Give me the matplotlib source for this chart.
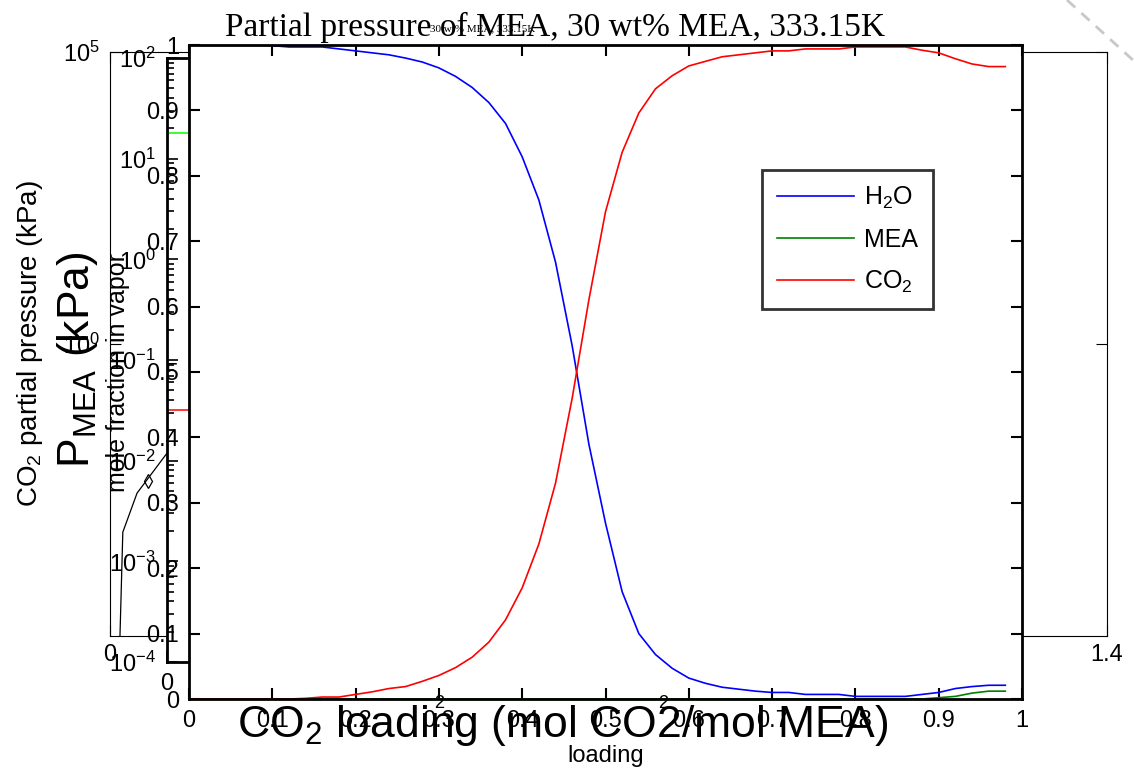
import matplotlib
matplotlib.use('Agg')
import matplotlib.pyplot as plt
from matplotlib.lines import Line2D
from matplotlib.ticker import NullLocator, LogLocator

plt.rcParams['font.family'] = ['Liberation Sans', 'DejaVu Sans']
plt.rcParams['mathtext.fontset'] = 'custom'
plt.rcParams['mathtext.rm'] = 'Liberation Sans'
plt.rcParams['mathtext.it'] = 'Liberation Sans:italic'
plt.rcParams['mathtext.bf'] = 'Liberation Sans:bold'
plt.rcParams['mathtext.default'] = 'regular'

# mole fraction in vapor vs loading (main axes)
loading = [0.00, 0.02, 0.04, 0.06, 0.08, 0.10, 0.12, 0.14, 0.16, 0.18,
           0.20, 0.22, 0.24, 0.26, 0.28, 0.30, 0.32, 0.34, 0.36, 0.38,
           0.40, 0.42, 0.44, 0.46, 0.48, 0.50, 0.52, 0.54, 0.56, 0.58,
           0.60, 0.62, 0.64, 0.66, 0.68, 0.70, 0.72, 0.74, 0.76, 0.78,
           0.80, 0.82, 0.84, 0.86, 0.88, 0.90, 0.92, 0.94, 0.96, 0.98]
h2o = [1.000, 1.000, 1.000, 1.000, 1.000, 0.999, 0.997, 0.997, 0.997, 0.994,
       0.991, 0.988, 0.985, 0.980, 0.974, 0.965, 0.952, 0.935, 0.912, 0.880,
       0.829, 0.763, 0.668, 0.540, 0.390, 0.269, 0.164, 0.100, 0.068, 0.047,
       0.032, 0.024, 0.018, 0.015, 0.012, 0.010, 0.010, 0.007, 0.007, 0.007,
       0.004, 0.004, 0.004, 0.004, 0.007, 0.010, 0.016, 0.019, 0.021, 0.021]
mea = [0.0] * 45 + [0.002, 0.004, 0.009, 0.012, 0.012]
co2 = [0.000, 0.000, 0.000, 0.000, 0.000, 0.000, 0.000, 0.001, 0.003, 0.003,
       0.007, 0.011, 0.016, 0.019, 0.027, 0.036, 0.048, 0.064, 0.087, 0.121,
       0.170, 0.237, 0.330, 0.460, 0.610, 0.745, 0.836, 0.896, 0.933, 0.953,
       0.968, 0.975, 0.982, 0.985, 0.988, 0.991, 0.991, 0.994, 0.994, 0.994,
       0.997, 0.997, 0.997, 0.997, 0.992, 0.988, 0.979, 0.971, 0.967, 0.967]

# CO2 partial pressure trace (back axes, log)
pco2_x = [0.014, 0.018, 0.038, 0.080, 0.120]
pco2_y = [1.0e-5, 6.0e-4, 2.8e-3, 1.35e-2, 4.0e-2]
pco2_mark_x = [0.053]
pco2_mark_y = [4.5e-3]

# MEA partial pressure traces (middle axes, log)
pmea_x = [0.0, 0.1]
pmea_top = [18.0, 18.0]
pmea_low = [0.032, 0.032]

main_ticks = [0, 0.1, 0.2, 0.3, 0.4, 0.5, 0.6, 0.7, 0.8, 0.9, 1]
main_labels = ['0', '0.1', '0.2', '0.3', '0.4', '0.5', '0.6', '0.7', '0.8', '0.9', '1']
back_xticks = [0, 0.2, 0.4, 0.6, 0.8, 1.0, 1.2, 1.4]
back_xlabels = ['0', '0.2', '0.4', '0.6', '0.8', '1', '1.2', '1.4']

W, H = 1134, 771


def box(l, t, r, b):
    return [l / W, 1 - b / H, (r - l) / W, (b - t) / H]


fig = plt.figure(figsize=(W / 100, H / 100), dpi=100)

# back axes: CO2 partial pressure
ax_a = fig.add_axes(box(110, 52, 1107, 636))
ax_a.plot(pco2_x, pco2_y, color='k', lw=0.9)
ax_a.plot(pco2_mark_x, pco2_mark_y, 'kd', mfc='none', ms=7, mew=0.9)
ax_a.set_yscale('log')
ax_a.set_xlim(0, 1.4)
ax_a.set_ylim(1e-5, 1e5)
ax_a.set_yticks([1, 1e5])
ax_a.yaxis.set_minor_locator(NullLocator())
ax_a.set_xticks(back_xticks)
ax_a.set_xticklabels(back_xlabels)
ax_a.tick_params(direction='in', top=True, right=True, labelsize=17, width=0.8, length=8)
ax_a.tick_params(axis='y', pad=7)
ax_a.tick_params(axis='x', pad=6)
for s in ax_a.spines.values():
    s.set_linewidth(0.8)
ax_a.set_ylabel('CO$_2$ partial pressure (kPa)', fontsize=20)
ax_a.yaxis.set_label_coords(-0.065, 0.5)

# middle axes: MEA partial pressure
ax_b = fig.add_axes(box(167, 58, 949, 662))
ax_b.plot(pmea_x, pmea_top, color='#00ff00', lw=1.1)
ax_b.plot(pmea_x, pmea_low, color='red', lw=1.1)
ax_b.set_yscale('log')
ax_b.set_xlim(0, 1)
ax_b.set_ylim(1e-4, 1e2)
ax_b.set_xticks(main_ticks)
ax_b.set_xticklabels(main_labels)
ax_b.yaxis.set_minor_locator(LogLocator(base=10, subs=range(2, 10), numticks=20))
ax_b.tick_params(which='both', direction='in', top=True, right=True, labelsize=17, width=1.2)
ax_b.tick_params(which='major', length=8)
ax_b.tick_params(which='minor', length=5)
ax_b.tick_params(axis='y', pad=8)
ax_b.tick_params(axis='x', pad=8)
for s in ax_b.spines.values():
    s.set_linewidth(2)
ax_b.set_ylabel('P$_{MEA}$ (kPa)', fontsize=32)
ax_b.yaxis.set_label_coords(-0.0857, 0.5)
ax_b.set_xlabel('CO$_2$ loading (mol CO2/mol MEA)', fontsize=32)
ax_b.xaxis.set_label_coords(0.506, -0.068)

# main axes: mole fractions
ax = fig.add_axes(box(189, 45, 1022, 699))
ax.plot(loading, h2o, color='blue', lw=1.2, label='H$_2$O')
ax.plot(loading, mea, color='green', lw=1.2, label='MEA')
ax.plot(loading, co2, color='red', lw=1.2, label='CO$_2$')
ax.set_xlim(0, 1)
ax.set_ylim(0, 1)
ax.set_xticks(main_ticks)
ax.set_xticklabels(main_labels)
ax.set_yticks(main_ticks)
ax.set_yticklabels(main_labels)
ax.tick_params(direction='in', top=True, right=True, labelsize=17, width=1.5, length=8)
ax.tick_params(axis='y', pad=7)
ax.tick_params(axis='x', pad=8)
for s in ax.spines.values():
    s.set_linewidth(2)
ax.set_ylabel('mole fraction in vapor', fontsize=18)
ax.yaxis.set_label_coords(-0.071, 0.5)
ax.set_xlabel('loading', fontsize=17)
ax.xaxis.set_label_coords(0.5, -0.070)
leg = ax.legend(loc='upper left', bbox_to_anchor=(762 / W, 1 - 170 / H),
                bbox_transform=fig.transFigure, fontsize=18, frameon=True,
                fancybox=False, handlelength=3.1, handletextpad=0.4,
                labelspacing=0.68, borderpad=0.58, borderaxespad=0)
leg.get_frame().set_edgecolor('black')
leg.get_frame().set_linewidth(2)

fig.text(555 / W, 1 - 36 / H, 'Partial pressure of MEA, 30 wt% MEA, 333.15K',
         family='Liberation Serif', fontsize=24, ha='center', va='baseline')
fig.text(483 / W, 1 - 31 / H, '30 wt% MEA, 333.15K',
         family='Liberation Serif', fontsize=8, ha='center', va='baseline')
# subscripts of a hidden label that peek out below the main axes
for xp in (439, 663):
    fig.text(xp / W, 1 - 703 / H, '2', fontsize=13, ha='center', va='center')

# faint dashed fold mark in the top right corner
fig.add_artist(Line2D([1067 / W, 1134 / W], [1.0, 1 - 61 / H], ls=(0, (4, 3)),
                      color='#c8c8c8', lw=2))

fig.savefig('out.png', dpi=100)
